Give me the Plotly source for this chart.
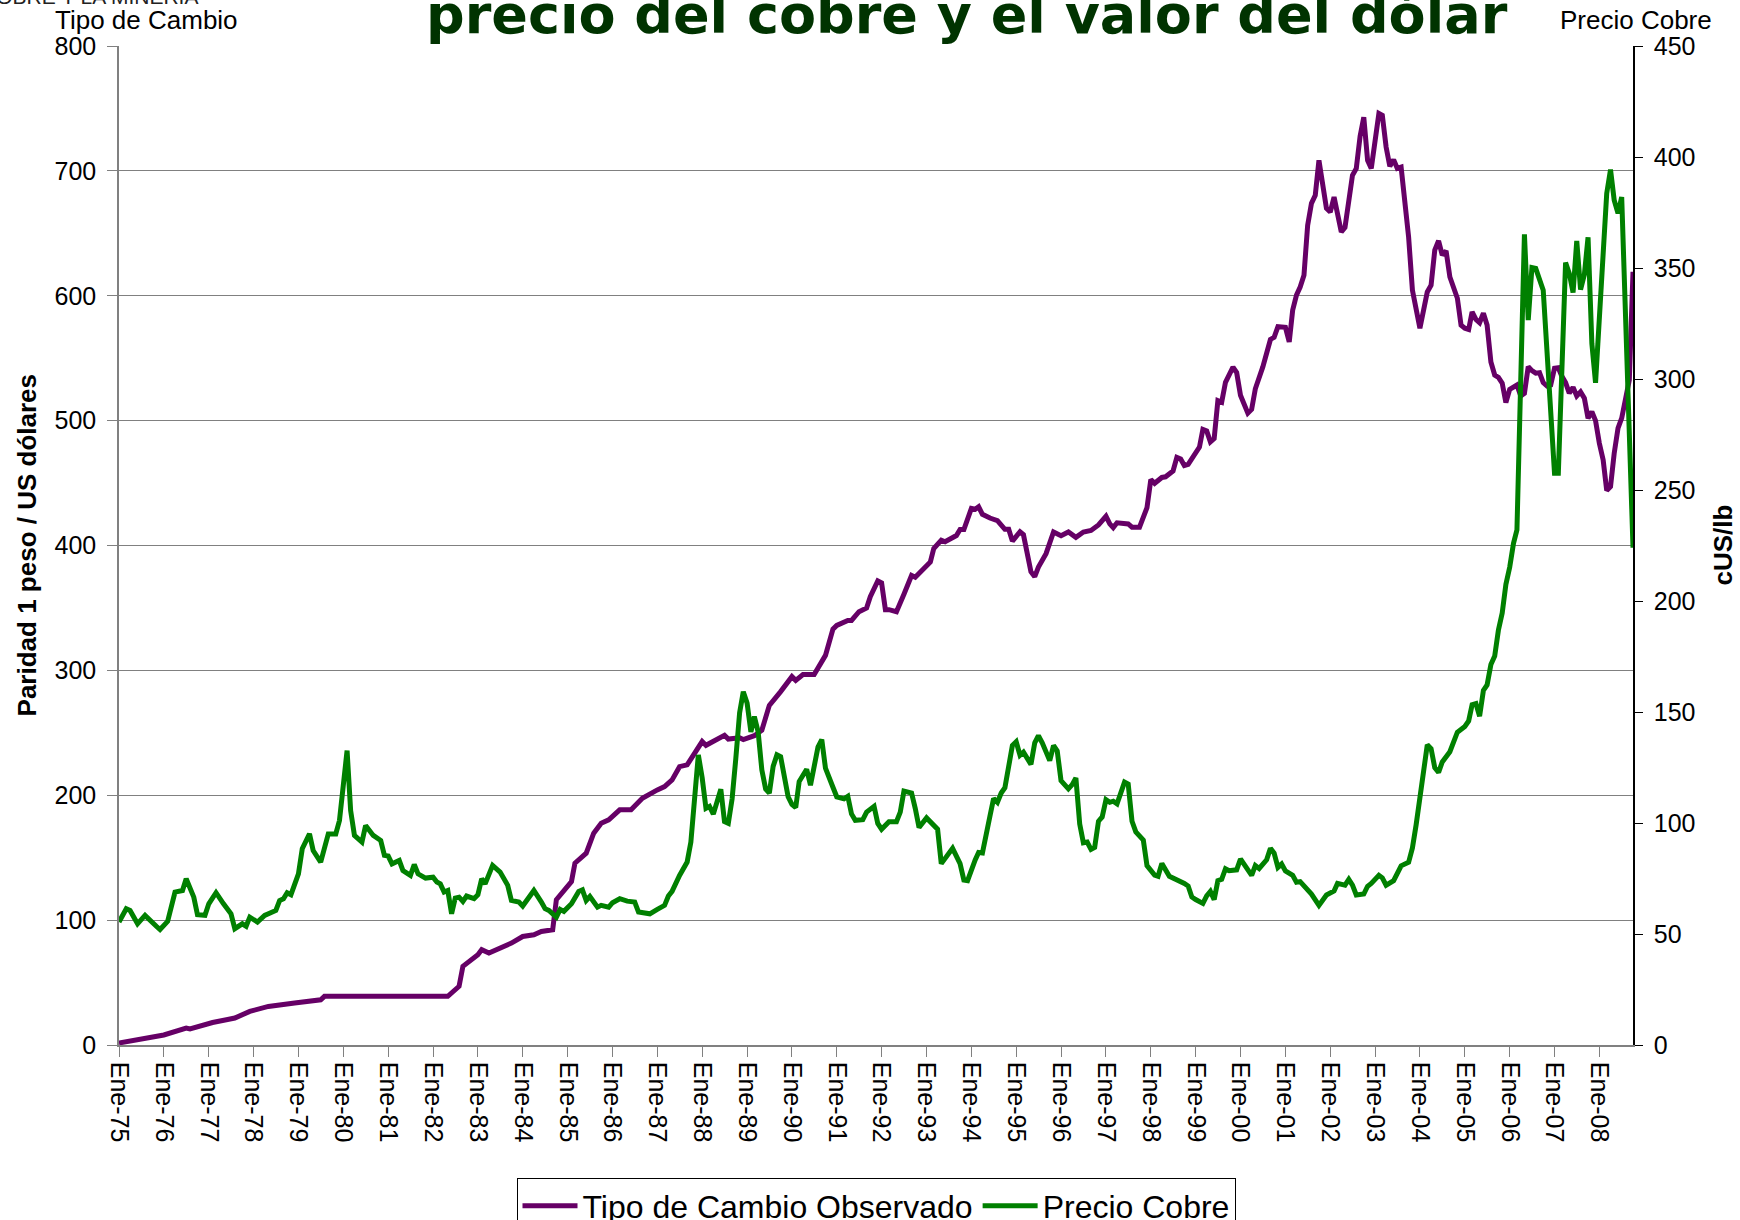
import plotly.graph_objects as go

# Tipo de cambio observado (pesos por dólar), lecturas mensuales
tc_fechas = [
    "1975-01", "1976-01", "1976-07", "1976-08", "1977-02", "1977-08", "1977-12",
    "1978-05", "1978-12", "1979-07", "1979-08", "1982-05", "1982-08", "1982-09",
    "1983-01", "1983-02", "1983-04", "1983-07", "1983-10", "1984-01", "1984-04",
    "1984-06", "1984-09", "1984-10", "1984-12", "1985-02", "1985-03", "1985-06",
    "1985-08", "1985-10", "1985-12", "1986-03", "1986-06", "1986-07", "1986-09",
    "1987-01", "1987-03", "1987-05", "1987-07", "1987-09", "1987-11", "1987-12",
    "1988-01", "1988-02", "1988-04", "1988-07", "1988-08", "1988-11", "1988-12",
    "1989-03", "1989-05", "1989-07", "1989-10", "1990-01", "1990-02", "1990-04",
    "1990-07", "1990-09", "1990-10", "1990-12", "1991-01", "1991-04", "1991-05",
    "1991-07", "1991-09", "1991-10", "1991-12", "1992-01", "1992-02", "1992-03",
    "1992-05", "1992-07", "1992-09", "1992-10", "1992-12", "1993-02", "1993-03",
    "1993-05", "1993-06", "1993-09", "1993-10", "1993-11", "1994-01", "1994-02",
    "1994-03", "1994-04", "1994-06", "1994-07", "1994-08", "1994-10", "1994-11",
    "1994-12", "1995-02", "1995-03", "1995-05", "1995-06", "1995-07", "1995-09",
    "1995-11", "1996-01", "1996-03", "1996-05", "1996-07", "1996-09", "1996-11",
    "1997-01", "1997-02", "1997-03", "1997-04", "1997-07", "1997-08", "1997-10",
    "1997-12", "1998-01", "1998-02", "1998-04", "1998-05", "1998-07", "1998-08",
    "1998-09", "1998-10", "1998-11", "1999-01", "1999-02", "1999-03", "1999-04",
    "1999-05", "1999-06", "1999-07", "1999-08", "1999-09", "1999-11", "1999-12",
    "2000-01", "2000-03", "2000-04", "2000-05", "2000-07", "2000-09", "2000-10",
    "2000-11", "2001-01", "2001-02", "2001-03", "2001-04", "2001-05", "2001-06",
    "2001-07", "2001-08", "2001-09", "2001-10", "2001-12", "2002-01", "2002-02",
    "2002-04", "2002-05", "2002-07", "2002-08", "2002-09", "2002-10", "2002-11",
    "2002-12", "2003-02", "2003-03", "2003-04", "2003-05", "2003-06", "2003-07",
    "2003-08", "2003-10", "2003-11", "2004-01", "2004-03", "2004-04", "2004-05",
    "2004-06", "2004-07", "2004-08", "2004-09", "2004-11", "2004-12", "2005-01",
    "2005-02", "2005-03", "2005-04", "2005-05", "2005-06", "2005-07", "2005-08",
    "2005-09", "2005-10", "2005-11", "2005-12", "2006-01", "2006-03", "2006-04",
    "2006-05", "2006-06", "2006-07", "2006-08", "2006-09", "2006-10", "2006-11",
    "2006-12", "2007-01", "2007-02", "2007-03", "2007-04", "2007-05", "2007-06",
    "2007-07", "2007-08", "2007-09", "2007-10", "2007-11", "2007-12", "2008-01",
    "2008-02", "2008-03", "2008-04", "2008-05", "2008-06", "2008-07", "2008-08",
    "2008-09", "2008-10",
]
tc_valores = [
    1.6, 8, 13.5, 12.8, 18, 21.6, 26.9,
    30.9, 33.6, 36.2, 39, 39, 47, 63,
    72.3, 76.3, 73.6, 77.6, 81.6, 86.9, 88.3,
    90.9, 92.3, 116.3, 124.3, 130.9, 145.6, 153.6,
    169.6, 177.6, 180.3, 188.3, 188.3, 190.9, 197.6,
    204.3, 206.9, 212.3, 222.9, 224.3, 233.6, 237.6,
    243, 240, 243, 248, 245, 246, 244.6,
    247.7, 252, 272, 283, 295, 292, 296.6,
    296.6, 305.8, 312, 333, 336, 340, 340,
    347, 350, 359, 371.6, 370, 348.6, 348.6,
    347, 361, 376, 374.6, 380.7, 386.8, 397.6,
    404.3, 403, 408, 412.8, 412.8, 429.7, 429,
    431, 425, 422, 420.8, 420, 413, 413,
    403.5, 411, 408.7, 379, 375, 382.7, 393.5,
    410.8, 407.8, 410.8, 406.5, 410.8, 412, 416.5,
    423.4, 417.3, 414.3, 418.2, 417.3, 414.7, 414.7,
    430.3, 452.8, 449.8, 454.5, 455, 459.7, 470.6,
    469.3, 464, 465, 474.5, 478.8, 493, 491.8,
    483, 485.7, 516, 514.7, 530.7, 542.9, 538.5,
    520.3, 506, 509, 525.5, 543, 565, 566.7,
    575.2, 574.7, 563, 588.5, 600.5, 607, 616.5,
    656.5, 674, 680.5, 708.5, 670, 667, 679,
    651, 654.7, 696.5, 702, 727.7, 743, 708.5,
    702, 746, 744.5, 719, 703.7, 709, 702,
    703, 647, 604.5, 574, 603, 608.5, 636.5,
    644, 632.5, 636, 615, 598, 576.5, 574,
    573, 587, 581, 578.4, 586, 576.5, 547,
    536.5, 534.7, 530, 514.4, 525, 528.5, 519.7,
    521.9, 543.2, 540, 538, 538.4, 530.4, 527.7,
    528.5, 541.9, 542.4, 535.7, 530.4, 522, 526.7,
    519.7, 523, 517.9, 501.9, 507.2, 500, 481.9,
    468.5, 444, 447.2, 473.9, 493.9, 502, 519.2,
    532.5, 619.2,
]

# Precio del cobre (centavos de dólar por libra)
cobre_fechas = [
    "1975-01", "1975-03", "1975-04", "1975-06", "1975-08", "1975-10", "1975-11",
    "1975-12", "1976-02", "1976-04", "1976-06", "1976-07", "1976-09", "1976-10",
    "1976-12", "1977-01", "1977-03", "1977-05", "1977-07", "1977-08", "1977-10",
    "1977-11", "1977-12", "1978-02", "1978-04", "1978-07", "1978-08", "1978-09",
    "1978-10", "1978-11", "1978-12", "1979-01", "1979-02", "1979-04", "1979-05",
    "1979-07", "1979-09", "1979-11", "1979-12", "1980-02", "1980-03", "1980-04",
    "1980-06", "1980-07", "1980-09", "1980-11", "1980-12", "1981-01", "1981-02",
    "1981-04", "1981-05", "1981-07", "1981-08", "1981-09", "1981-11", "1982-01",
    "1982-02", "1982-03", "1982-04", "1982-05", "1982-06", "1982-07", "1982-08",
    "1982-09", "1982-10", "1982-12", "1983-01", "1983-02", "1983-03", "1983-05",
    "1983-07", "1983-09", "1983-10", "1983-12", "1984-01", "1984-03", "1984-04",
    "1984-06", "1984-07", "1984-08", "1984-10", "1984-11", "1984-12", "1985-02",
    "1985-04", "1985-05", "1985-06", "1985-07", "1985-09", "1985-10", "1985-12",
    "1986-01", "1986-03", "1986-05", "1986-07", "1986-08", "1986-11", "1987-01",
    "1987-03", "1987-04", "1987-05", "1987-07", "1987-09", "1987-10", "1987-11",
    "1987-12", "1988-01", "1988-02", "1988-03", "1988-04", "1988-06", "1988-07",
    "1988-08", "1988-09", "1988-10", "1988-11", "1988-12", "1989-01", "1989-02",
    "1989-03", "1989-04", "1989-05", "1989-06", "1989-07", "1989-08", "1989-09",
    "1989-10", "1989-12", "1990-01", "1990-02", "1990-03", "1990-05", "1990-06",
    "1990-08", "1990-09", "1990-10", "1990-12", "1991-01", "1991-03", "1991-04",
    "1991-05", "1991-06", "1991-08", "1991-09", "1991-11", "1991-12", "1992-01",
    "1992-03", "1992-05", "1992-06", "1992-07", "1992-09", "1992-10", "1992-11",
    "1993-01", "1993-04", "1993-05", "1993-07", "1993-08", "1993-10", "1993-11",
    "1993-12", "1994-01", "1994-02", "1994-03", "1994-04", "1994-06", "1994-07",
    "1994-08", "1994-09", "1994-10", "1994-12", "1995-01", "1995-02", "1995-03",
    "1995-05", "1995-06", "1995-07", "1995-08", "1995-10", "1995-11", "1995-12",
    "1996-01", "1996-03", "1996-04", "1996-05", "1996-06", "1996-07", "1996-08",
    "1996-09", "1996-10", "1996-11", "1996-12", "1997-01", "1997-02", "1997-03",
    "1997-04", "1997-06", "1997-07", "1997-08", "1997-09", "1997-11", "1997-12",
    "1998-02", "1998-03", "1998-04", "1998-06", "1998-08", "1998-10", "1998-11",
    "1998-12", "1999-01", "1999-03", "1999-04", "1999-05", "1999-06", "1999-07",
    "1999-08", "1999-09", "1999-10", "1999-12", "2000-01", "2000-02", "2000-04",
    "2000-05", "2000-06", "2000-08", "2000-09", "2000-10", "2000-11", "2000-12",
    "2001-01", "2001-03", "2001-04", "2001-05", "2001-08", "2001-10", "2001-12",
    "2002-02", "2002-03", "2002-05", "2002-06", "2002-07", "2002-08", "2002-10",
    "2002-11", "2002-12", "2003-02", "2003-03", "2003-04", "2003-06", "2003-07",
    "2003-08", "2003-10", "2003-11", "2003-12", "2004-01", "2004-03", "2004-04",
    "2004-05", "2004-06", "2004-07", "2004-09", "2004-11", "2005-01", "2005-02",
    "2005-03", "2005-04", "2005-05", "2005-06", "2005-07", "2005-08", "2005-09",
    "2005-10", "2005-11", "2005-12", "2006-01", "2006-02", "2006-03", "2006-05",
    "2006-06", "2006-07", "2006-08", "2006-10", "2007-01", "2007-02", "2007-04",
    "2007-05", "2007-06", "2007-07", "2007-08", "2007-09", "2007-10", "2007-11",
    "2007-12", "2008-02", "2008-03", "2008-04", "2008-05", "2008-06", "2008-07",
    "2008-10",
]
cobre_valores = [
    55.4, 61.4, 60.6, 54.6, 58.4, 54.6, 53.5,
    52, 55.7, 68.9, 69.6, 74.9, 66.6, 58.7,
    58.4, 63.6, 68.6, 63.6, 59.1, 52.4, 54.6,
    53.5, 57.6, 55.4, 58.4, 60.6, 65.1, 65.9,
    68.6, 67.7, 71.9, 77.1, 88.4, 95.1, 87.6,
    82.4, 95.1, 95.1, 101.1, 132.6, 105.6, 94.4,
    91.4, 98.9, 94.4, 92.1, 85.4, 85.1, 81.6,
    83.1, 78.6, 76.4, 81.3, 77.1, 75.2, 75.6,
    73.4, 72.6, 68.9, 69.6, 59.1, 66.2, 66.6,
    64.7, 67.1, 65.9, 67.7, 74.9, 72.6, 80.9,
    77.9, 71.9, 65.1, 64.4, 62.6, 67.4, 69.6,
    64.4, 61.4, 60.6, 57.6, 61.1, 60.2, 63.6,
    69.2, 69.9, 65.1, 66.9, 62.1, 62.9, 62.1,
    64.1, 65.9, 64.8, 64.4, 59.9, 59.1, 61.1,
    62.9, 67.1, 69.2, 76.4, 82.4, 91.4, 115.4,
    130.7, 120.4, 106.6, 107.5, 104, 115.2, 100.6,
    99.8, 110.9, 129, 149.6, 159.1, 154, 141,
    147.9, 141, 123.9, 115.3, 113.5, 125.5, 130.7,
    129.9, 111.8, 108.4, 107, 118.7, 124.2, 117,
    134.2, 137.6, 124.7, 116.1, 111.8, 110.9, 112,
    104.1, 101.2, 101.5, 104.9, 107.5, 99.8, 97.2,
    100.6, 100.6, 104.9, 114.4, 113.5, 106.6, 98,
    102.3, 97.2, 81.7, 86.9, 88.6, 81.7, 74.3,
    74, 79.2, 83.4, 86.7, 86.5, 103, 111,
    109.3, 113.5, 115.9, 134.9, 136.6, 130.5, 131.9,
    126.4, 136.1, 139.3, 136.1, 128.1, 134.9, 132.5,
    119.1, 115.4, 117.3, 120.3, 99.6, 91.1, 91.4,
    88.1, 89, 100.8, 102.7, 110.5, 109.3, 109.8,
    108.6, 118.4, 117.5, 100.8, 96, 92.3, 80.8,
    76.5, 76, 81.8, 76, 74.5, 72.8, 71.6,
    66.7, 65.5, 63.8, 67.2, 69.2, 65.5, 74,
    74.6, 79.4, 78.5, 78.9, 83.8, 80.9, 76.4,
    80.8, 79.5, 83.4, 88.6, 86.4, 80, 81.5,
    78.4, 76.4, 73.3, 73.6, 68, 62.9, 67.6,
    69.4, 72.8, 72, 74.6, 72, 67.6, 68,
    71.5, 72.8, 76.4, 75.3, 72, 74, 77.9,
    80.7, 82.3, 88.8, 99.1, 110.7, 135.2, 133.5,
    124.9, 122.8, 127.5, 132.1, 140.9, 143.5, 146,
    153.3, 153.8, 148.1, 159.7, 162.2, 171.4, 175.2,
    186.8, 194.6, 207.5, 215.2, 226, 232, 365.2,
    326.5, 350.2, 349.8, 340, 257.6, 257.6, 352.4,
    347.6, 338.9, 362.2, 340.3, 347, 363.8, 316,
    298.3, 359.5, 383.6, 394.3, 380.5, 374.6, 382,
    224,
]

# Eje de categorías: enero de cada año
anios = list(range(1975, 2009))
marcas_anio = [f"{a}-01-01" for a in anios]
etiquetas_anio = [f"Ene-{a % 100:02d}" for a in anios]

FUENTE = "Liberation Sans, Arial, sans-serif"
FUENTE_TITULO = "DejaVu Sans, Verdana, sans-serif"

fig = go.Figure()
fig.add_trace(go.Scatter(
    x=tc_fechas, y=tc_valores, name="Tipo de Cambio Observado",
    mode="lines", line=dict(color="#660066", width=5), yaxis="y",
))
fig.add_trace(go.Scatter(
    x=cobre_fechas, y=cobre_valores, name="Precio Cobre",
    mode="lines", line=dict(color="#008000", width=5), yaxis="y2",
))

fig.update_layout(
    width=1740, height=1220,
    margin=dict(l=119, r=107, t=46, b=175, autoexpand=False),
    paper_bgcolor="white", plot_bgcolor="white",
    font=dict(family=FUENTE, color="black", size=25),
    showlegend=True,
    legend=dict(
        orientation="h", x=0.5, xanchor="center", y=-0.1327, yanchor="top",
        bordercolor="black", borderwidth=1, bgcolor="white",
        font=dict(size=32, family=FUENTE), itemwidth=55,
    ),
    xaxis=dict(
        type="date", range=["1975-01-01", "2008-10-01"],
        tickmode="array", tickvals=marcas_anio, ticktext=etiquetas_anio,
        tickangle=90, ticks="outside", ticklen=10, tickcolor="#808080",
        showline=True, linecolor="#808080", linewidth=1.5,
        showgrid=False, zeroline=False, tickfont=dict(size=25),
    ),
    yaxis=dict(
        range=[0, 800], dtick=100, ticks="outside", ticklen=10,
        tickcolor="#808080", showline=True, linecolor="#808080", linewidth=1.5,
        showgrid=True, gridcolor="#808080", gridwidth=1.2, zeroline=False,
        tickfont=dict(size=25), ticklabelstandoff=6,
    ),
    yaxis2=dict(
        range=[0, 450], dtick=50, overlaying="y", side="right", anchor="x",
        ticks="outside", ticklen=8, tickcolor="black", showline=True,
        linecolor="black", linewidth=1.5, showgrid=False, zeroline=False,
        tickfont=dict(size=25), ticklabelstandoff=6,
    ),
    yaxis3=dict(
        range=[0, 450], dtick=50, overlaying="y", side="right", anchor="x",
        ticks="inside", ticklen=8, tickcolor="black", showticklabels=False,
        showline=False, showgrid=False, zeroline=False,
    ),
)

anotaciones = [
    dict(text="<b>precio del cobre y el valor del dólar</b>", x=0.560, y=0.9975,
         xanchor="center", yanchor="bottom",
         font=dict(family=FUENTE_TITULO, size=54, color="#003300")),
    dict(text="COBRE Y LA MINERIA", x=0.0535, y=1.036, xanchor="right", yanchor="bottom",
         font=dict(size=21, color="#222222")),
    dict(text="Tipo de Cambio", x=-0.0436, y=1.0265, xanchor="left", yanchor="middle",
         font=dict(size=26)),
    dict(text="Precio Cobre", x=1.0535, y=1.0265, xanchor="right", yanchor="middle",
         font=dict(size=26)),
    dict(text="<b>Paridad 1 peso / US dólares</b>", x=-0.0608, y=0.5, textangle=-90,
         xanchor="center", yanchor="middle", font=dict(size=26)),
    dict(text="<b>cUS/lb</b>", x=1.0588, y=0.5, textangle=-90,
         xanchor="center", yanchor="middle", font=dict(size=26)),
]
for a in anotaciones:
    fig.add_annotation(xref="paper", yref="paper", showarrow=False, **a)

fig.write_html("out.html")
